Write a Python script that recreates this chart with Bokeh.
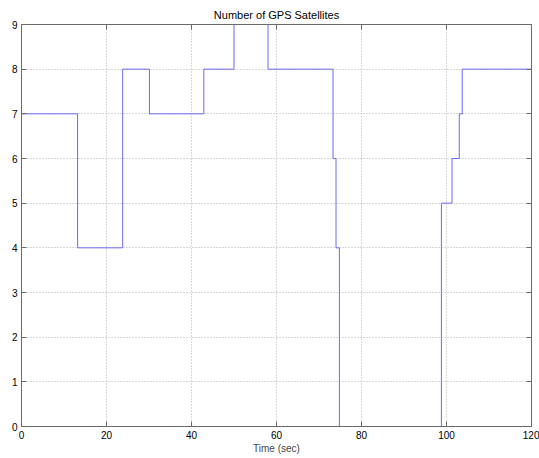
from bokeh.plotting import figure
from bokeh.models import Range1d, LinearAxis, FixedTicker, Title
from bokeh.embed import file_html
from bokeh.resources import INLINE

# Data (time in seconds, number of satellites)
seg1_time = [0, 13.2, 23.8, 30.1, 42.9, 50.0, 58.0, 73.3, 74.0, 74.8]
seg1_sats = [7, 4, 8, 7, 8, 9, 8, 6, 4, 0]
seg2_time = [98.8, 98.8, 101.3, 103.0, 103.7, 120]
seg2_sats = [0, 5, 6, 7, 8, 8]

x_ticks = [0, 20, 40, 60, 80, 100, 120]
y_ticks = [0, 1, 2, 3, 4, 5, 6, 7, 8, 9]

FONT = "Liberation Sans"
AXIS_COLOR = "#6a6a6a"
LINE_COLOR = "#6b6bf5"

p = figure(width=539, height=458, output_backend="svg", toolbar_location=None,
           x_range=Range1d(0, 120), y_range=Range1d(0, 9),
           x_axis_location=None, y_axis_location=None,
           min_border_left=21, min_border_right=8, min_border_top=24,
           min_border_bottom=32)
p.background_fill_color = "white"
p.border_fill_color = "white"
p.outline_line_color = AXIS_COLOR
p.outline_line_width = 1

p.title = Title(text="Number of GPS Satellites", align="center",
                text_font=FONT, text_font_size="11px", text_font_style="normal",
                text_color="black", standoff=8, offset=0)


def make_axis(cls_ticks, show_labels, label=None):
    ax = LinearAxis(ticker=FixedTicker(ticks=cls_ticks))
    ax.axis_line_color = AXIS_COLOR
    ax.major_tick_line_color = AXIS_COLOR
    ax.major_tick_in = 5
    ax.major_tick_out = 0
    ax.minor_tick_line_color = None
    ax.major_label_text_font = FONT
    ax.major_label_text_font_size = "10px"
    ax.major_label_text_color = "black"
    ax.major_label_standoff = 4
    if not show_labels:
        ax.major_label_text_font_size = "0px"
        ax.major_label_standoff = 0
        ax.major_label_text_alpha = 0
    if label:
        ax.axis_label = label
        ax.axis_label_text_font = FONT
        ax.axis_label_text_font_size = "10px"
        ax.axis_label_text_font_style = "normal"
        ax.axis_label_standoff = 1
    return ax


p.add_layout(make_axis(x_ticks, True, "Time (sec)"), "below")
p.add_layout(make_axis(y_ticks, True), "left")
p.add_layout(make_axis(x_ticks, False), "above")
p.add_layout(make_axis(y_ticks, False), "right")

p.xgrid.ticker = FixedTicker(ticks=x_ticks)
p.ygrid.ticker = FixedTicker(ticks=y_ticks)
for g in (p.xgrid, p.ygrid):
    g.grid_line_color = "#b0b0b0"
    g.grid_line_dash = "1 2"
    g.grid_line_width = 1

p.step(seg1_time, seg1_sats, mode="after", line_color=LINE_COLOR, line_width=1)
p.step(seg2_time, seg2_sats, mode="after", line_color=LINE_COLOR, line_width=1)

open("out.html", "w").write(file_html(p, INLINE))
